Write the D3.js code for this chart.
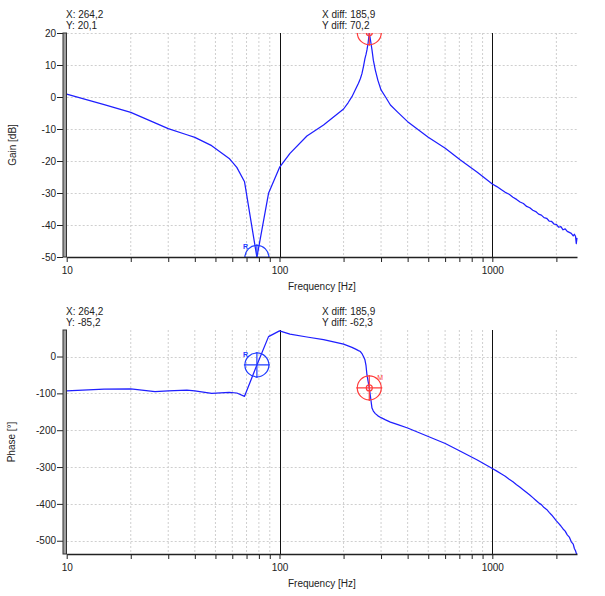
<!DOCTYPE html>
<html>
<head>
<meta charset="utf-8">
<script src="https://cdn.jsdelivr.net/npm/d3@7"></script>
<style>
  html, body { margin: 0; padding: 0; background: #fff; }
  svg text { font-family: "Liberation Sans", Arial, sans-serif; fill: #222; }
</style>
</head>
<body>
<svg id="chart" width="605" height="596"></svg>
<script>
// ---------------- DATA ----------------
const freqs = [10, 15, 20, 26, 30, 36.7, 40, 48, 58, 63, 68.5, 78.3, 88.8, 100, 112, 134.5, 161,
  200, 210, 219, 228, 235, 240, 244, 248, 252, 255, 257.6, 261, 264.2, 268, 272, 276, 282, 290, 300, 315, 332, 360,
  400, 500, 601, 708, 850,
  1000, 1050, 1100, 1150, 1200, 1250, 1300, 1350, 1400, 1450, 1500, 1550, 1600, 1650, 1700, 1750,
  1800, 1850, 1900, 1950, 2000, 2050, 2100, 2150, 2200, 2250, 2300, 2350, 2400, 2430, 2460, 2480, 2500];

const gainDb = [0.9, -2.4, -4.8, -8.1, -9.9, -11.8, -12.6, -15.2, -19.2, -22.0, -26.5, -50.1, -30.1, -22.0, -17.6, -12.2, -8.75,
  -3.75, -1.8, 0.1, 2.5, 4.3, 5.8, 7.3, 9.5, 12.0, 13.3, 14.7, 17.0, 20.1, 17.5, 14.7, 11.5, 8.4, 5.2, 2.2, 0.0, -2.5, -4.8,
  -7.7, -12.6, -16.0, -19.7, -23.5,
  -27.2, -28.0, -28.9, -29.8, -30.4, -31.3, -32.0, -32.8, -33.3, -34.2, -34.6, -35.4, -35.8, -36.6, -36.9, -37.7,
  -37.9, -38.8, -38.9, -39.7, -39.8, -40.7, -40.5, -41.5, -41.2, -42.0, -42.3, -42.6, -43.4, -42.9, -43.5, -45.8, -44.0];

const phaseDeg = [-93, -88.5, -88, -95, -93, -91, -93, -100, -97.5, -99, -108, -22.9, 54, 69.6, 61, 53, 46,
  33.5, 29, 25, 20, 16, 13.5, 8, 0, -9, -25, -50, -68, -85.2, -112, -140, -148, -155, -161, -166, -172, -178, -185,
  -194, -217, -236, -257, -281,
  -304, -311, -318, -325, -333, -340, -348, -355, -362, -369, -376, -383, -390, -397, -402, -410,
  -415, -423, -430, -438, -446, -453, -460, -468, -474, -484, -490, -503, -509, -521, -527, -534, -536];

const freqLabels = [10, 100, 1000];
const freqDecades = [100, 1000];
const freqMinor = [20, 30, 40, 50, 60, 70, 80, 90, 200, 300, 400, 500, 600, 700, 800, 900, 2000];
const gainTicks = [20, 10, 0, -10, -20, -30, -40, -50];
const phaseTicks = [0, -100, -200, -300, -400, -500];

// cursors: M (measure) and R (reference)
const markerNames = ["M", "R"];
const markerFreq = [264.2, 78.3];
const markerGain = [20.1, -50.1];
const markerPhase = [-85.2, -22.9];

const gainHeader = ["X: 264,2", "Y: 20,1"];
const gainDiff = ["X diff: 185,9", "Y diff: 70,2"];
const phaseHeader = ["X: 264,2", "Y: -85,2"];
const phaseDiff = ["X diff: 185,9", "Y diff: -62,3"];

// ---------------- LAYOUT ----------------
const svg = d3.select("#chart");
const L = 66.7, R = 577;
const x = d3.scaleLog().domain([10, 2500]).range([L, R]);
const colors = { M: "#ff3c3c", R: "#1f3cff" };
const curveColor = "#1f1fff";

function drawPanel(cfg) {
  const g = svg.append("g");
  const y = d3.scaleLinear().domain(cfg.domain).range([cfg.bottom, cfg.top]);
  const clipId = "clip" + cfg.id;
  svg.append("clipPath").attr("id", clipId).append("rect")
    .attr("x", L).attr("y", cfg.top).attr("width", R - L + 2).attr("height", cfg.bottom - cfg.top);

  // grid
  g.selectAll(".vg").data(freqMinor).join("line")
    .attr("x1", d => x(d)).attr("x2", d => x(d))
    .attr("y1", cfg.top).attr("y2", cfg.bottom)
    .attr("stroke", "#cfcfcf").attr("stroke-dasharray", "2,2");
  g.selectAll(".hg").data(cfg.ticks.filter(t => y(t) < cfg.bottom - 1)).join("line")
    .attr("x1", L).attr("x2", R)
    .attr("y1", d => Math.round(y(d)) + 0.5).attr("y2", d => Math.round(y(d)) + 0.5)
    .attr("stroke", "#cfcfcf").attr("stroke-dasharray", "2,2");
  g.selectAll(".dg").data(freqDecades).join("line")
    .attr("x1", d => Math.round(x(d)) + 0.5).attr("x2", d => Math.round(x(d)) + 0.5)
    .attr("y1", cfg.top).attr("y2", cfg.bottom)
    .attr("stroke", "#111").attr("stroke-width", 1);

  // curve
  const line = d3.line().x(d => x(d[0])).y(d => y(d[1]));
  g.append("path").datum(freqs.map((f, i) => [f, cfg.values[i]]))
    .attr("clip-path", `url(#${clipId})`)
    .attr("d", line).attr("fill", "none")
    .attr("stroke", curveColor).attr("stroke-width", 1.25).attr("stroke-linejoin", "round");

  // markers
  const mg = g.append("g").attr("clip-path", `url(#${clipId})`);
  markerNames.forEach((name, i) => {
    const cx = x(markerFreq[i]), cy = y(cfg.markers[i]);
    const c = colors[name];
    const r = 12;
    mg.append("circle").attr("cx", cx).attr("cy", cy).attr("r", r)
      .attr("fill", "none").attr("stroke", c).attr("stroke-width", 1.2);
    mg.append("line").attr("x1", cx - r - 1).attr("x2", cx + r + 1).attr("y1", cy).attr("y2", cy)
      .attr("stroke", c).attr("stroke-width", 1.2);
    mg.append("line").attr("x1", cx).attr("x2", cx).attr("y1", cy - r - 1).attr("y2", cy + r + 1)
      .attr("stroke", c).attr("stroke-width", 1.2);
    if (name === "M") {
      mg.append("circle").attr("cx", cx).attr("cy", cy).attr("r", 3)
        .attr("fill", "none").attr("stroke", c).attr("stroke-width", 1.2);
      mg.append("text").attr("x", cx + 8).attr("y", cy - 8).text(name)
        .style("font-size", "7px").style("fill", c);
    } else {
      mg.append("text").attr("x", cx - 14).attr("y", cy - 8).text(name)
        .style("font-size", "7px").style("font-weight", "bold").style("fill", c);
    }
  });

  // x axis
  const xAxis = d3.axisBottom(x)
    .tickValues(freqLabels.concat(freqMinor))
    .tickFormat(d => freqLabels.includes(d) ? String(d) : "")
    .tickSize(5).tickSizeOuter(0).tickPadding(5);
  const xa = g.append("g").attr("transform", `translate(0,${cfg.bottom})`).call(xAxis);
  xa.select(".domain").attr("stroke", "#222").attr("stroke-width", 1.3);
  xa.selectAll(".tick line").attr("stroke", "#222");
  xa.selectAll("text").style("font-size", "10px").style("fill", "#222");

  g.append("text").attr("x", (L + R) / 2).attr("y", cfg.bottom + 33)
    .attr("text-anchor", "middle").style("font-size", "10px").text("Frequency [Hz]");

  // y axis
  const yAxis = d3.axisLeft(y).tickValues(cfg.ticks).tickFormat(d => String(d))
    .tickSize(6).tickSizeOuter(0).tickPadding(1);
  const ya = g.append("g").attr("transform", `translate(63,0)`).call(yAxis);
  ya.select(".domain").remove();
  ya.selectAll(".tick line").attr("stroke", "#222");
  ya.selectAll("text").style("font-size", "10px").style("fill", "#222");
  g.append("rect").attr("x", 63).attr("y", cfg.top).attr("width", 3.5).attr("height", cfg.bottom - cfg.top)
    .attr("fill", "#a0a0a0").attr("stroke", "#333").attr("stroke-width", 1);

  g.append("text").attr("transform", `translate(${cfg.titleX},${(cfg.top + cfg.bottom) / 2}) rotate(-90)`)
    .attr("text-anchor", "middle").style("font-size", "10px").text(cfg.title);

  // header readouts
  g.selectAll(".h1").data(cfg.header).join("text")
    .attr("x", 66).attr("y", (d, i) => cfg.top - 15 + i * 11).style("font-size", "10px").text(d => d);
  g.selectAll(".h2").data(cfg.diff).join("text")
    .attr("x", 322).attr("y", (d, i) => cfg.top - 15 + i * 11).style("font-size", "10px").text(d => d);
}

drawPanel({ id: "gain", top: 33, bottom: 257, domain: [-50, 20], ticks: gainTicks, values: gainDb,
  markers: markerGain, title: "Gain [dB]", titleX: 16, header: gainHeader, diff: gainDiff });
drawPanel({ id: "phase", top: 330, bottom: 554, domain: [-536, 72], ticks: phaseTicks, values: phaseDeg,
  markers: markerPhase, title: "Phase [°]", titleX: 15, header: phaseHeader, diff: phaseDiff });
</script>
</body>
</html>
